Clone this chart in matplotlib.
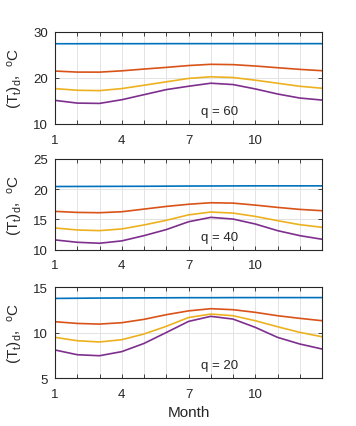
import matplotlib.pyplot as plt
import numpy as np

plt.rcParams['font.family'] = ['Liberation Sans', 'DejaVu Sans']
plt.rcParams['mathtext.fontset'] = 'custom'
plt.rcParams['mathtext.rm'] = 'Liberation Sans'
plt.rcParams['mathtext.it'] = 'Liberation Sans'

months = np.arange(1, 14)

# q = 60
q60_blue = [27.44, 27.44, 27.45, 27.45, 27.45, 27.46, 27.46, 27.46, 27.46, 27.46, 27.46, 27.46, 27.46]
q60_red = [21.50, 21.28, 21.27, 21.55, 21.94, 22.30, 22.70, 22.97, 22.90, 22.60, 22.23, 21.87, 21.58]
q60_yellow = [17.69, 17.33, 17.25, 17.69, 18.42, 19.16, 19.90, 20.26, 20.10, 19.52, 18.86, 18.20, 17.77]
q60_purple = [15.13, 14.54, 14.47, 15.27, 16.37, 17.47, 18.20, 18.86, 18.57, 17.62, 16.52, 15.64, 15.20]

# q = 40
q40_blue = [20.44, 20.45, 20.46, 20.47, 20.48, 20.50, 20.52, 20.53, 20.54, 20.55, 20.55, 20.55, 20.55]
q40_red = [16.32, 16.15, 16.10, 16.26, 16.70, 17.14, 17.50, 17.75, 17.69, 17.36, 16.98, 16.65, 16.43]
q40_yellow = [13.57, 13.24, 13.13, 13.41, 14.07, 14.84, 15.74, 16.21, 16.04, 15.49, 14.78, 14.12, 13.68]
q40_purple = [11.59, 11.20, 11.04, 11.43, 12.30, 13.30, 14.60, 15.33, 15.05, 14.23, 13.13, 12.30, 11.70]

# q = 20
q20_blue = [13.75, 13.77, 13.79, 13.80, 13.81, 13.82, 13.83, 13.83, 13.84, 13.84, 13.84, 13.84, 13.84]
q20_red = [11.19, 11.00, 10.93, 11.08, 11.45, 11.96, 12.38, 12.62, 12.51, 12.22, 11.85, 11.56, 11.30]
q20_yellow = [9.47, 9.10, 8.96, 9.21, 9.84, 10.68, 11.65, 12.03, 11.85, 11.30, 10.64, 10.02, 9.54]
q20_purple = [8.08, 7.56, 7.45, 7.90, 8.80, 10.00, 11.22, 11.78, 11.48, 10.57, 9.47, 8.74, 8.19]

panels = [
    ('q = 60', [q60_blue, q60_red, q60_yellow, q60_purple], (10, 30), [10, 20, 30]),
    ('q = 40', [q40_blue, q40_red, q40_yellow, q40_purple], (10, 25), [10, 15, 20, 25]),
    ('q = 20', [q20_blue, q20_red, q20_yellow, q20_purple], (5, 15), [5, 10, 15]),
]
colors = ['#0072BD', '#D95319', '#EDB120', '#7E2F8E']
positions = [
    [0.1545, 0.7073, 0.75, 0.2155],
    [0.1545, 0.4133, 0.75, 0.2120],
    [0.1545, 0.1124, 0.75, 0.2130],
]

fig = plt.figure(figsize=(3.56, 4.27), dpi=100)

for (label, series, ylim, yticks), pos in zip(panels, positions):
    ax = fig.add_axes(pos)
    for s, c in zip(series, colors):
        ax.plot(months, s, color=c, lw=1.2)
    ax.set_xlim(1, 13)
    ax.set_ylim(*ylim)
    ax.set_xticks(months)
    ax.set_xticklabels([str(m) if m in (1, 4, 7, 10) else '' for m in months])
    ax.set_yticks(yticks)
    ax.grid(True, color='#e3e3e3', lw=0.7)
    ax.set_axisbelow(True)
    ax.tick_params(direction='in', top=True, right=True, length=3, width=0.6,
                   labelsize=9.5, colors='#262626')
    ax.tick_params(axis='x', pad=7)
    ax.tick_params(axis='y', pad=5)
    for sp in ax.spines.values():
        sp.set_color('#262626')
        sp.set_linewidth(0.8)
    ax.set_ylabel(r'(T$_\mathrm{t}$)$_\mathrm{d}$,  $^\mathrm{o}$C', fontsize=11,
                  color='#262626', labelpad=6)
    ax.text(0.618, 0.14, label, transform=ax.transAxes, ha='center', va='center',
            fontsize=9.5, color='#262626')

ax.set_xlabel('Month', fontsize=11, color='#262626', labelpad=4)

fig.savefig('out.png', dpi=100)
